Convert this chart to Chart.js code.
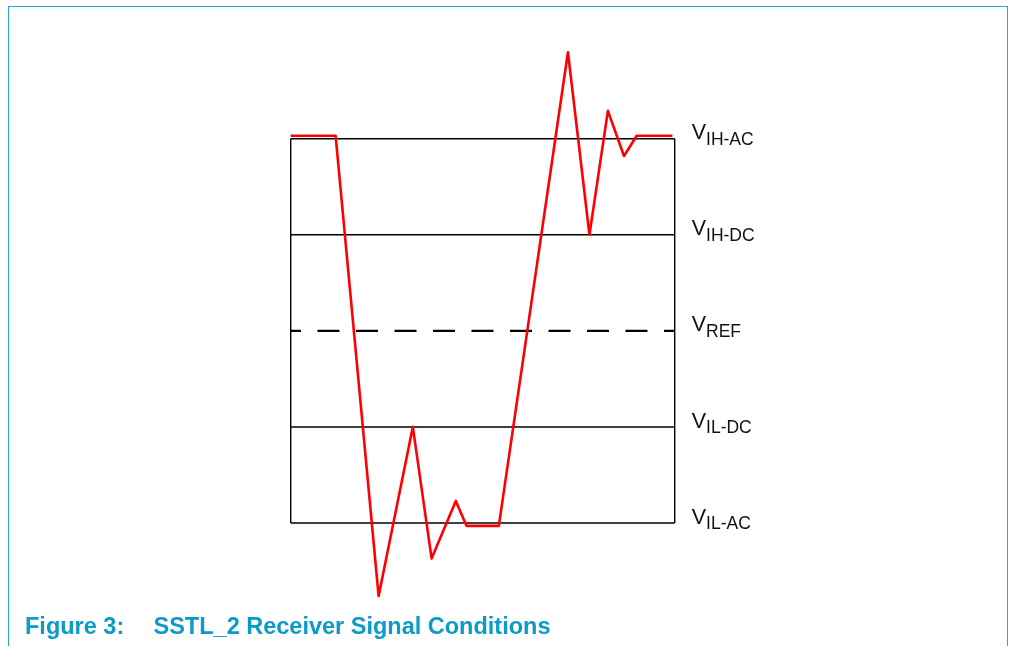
<!DOCTYPE html>
<html>
<head>
<meta charset="utf-8">
<script src="https://cdn.jsdelivr.net/npm/chart.js@4.4.1/dist/chart.umd.min.js"></script>
<style>
  body { margin: 0; background: #fff; }
  #frame { position: absolute; left: 8px; top: 6px; width: 998px; height: 700px;
           border: 1px solid #22a6d6; border-bottom: none; }
  #chart { position: absolute; left: 0; top: 0; }
  .cap { position: absolute; top: 614.5px; font: bold 23.5px "Liberation Sans", Arial, sans-serif;
         line-height: 1; color: #0a9bc8; white-space: nowrap; }
</style>
</head>
<body>
<div id="frame"></div>
<canvas id="chart" width="1010" height="646"></canvas>
<div class="cap" style="left:25px">Figure 3:</div>
<div class="cap" style="left:153.5px">SSTL_2 Receiver Signal Conditions</div>
<script>
// signal trace (time in % of box width, level in threshold steps)
var sigX = [0, 11.7, 22.9, 31.8, 36.7, 43.0, 45.8, 54.2, 72.2, 77.8, 82.6, 86.8, 90.1, 99.4]
var sigY = [4.03, 4.03, -0.76, 1.0, -0.37, 0.23, -0.03, -0.03, 4.90, 3.0, 4.29, 3.82, 4.03, 4.03]

// threshold levels, bottom to top
var levels = [0, 1, 2, 3, 4]
var levelNames = ['IL-AC', 'IL-DC', 'REF', 'IH-DC', 'IH-AC']

var boxX = [0, 100]

var datasets = []
datasets.push({
    label: 'signal',
    data: sigX.map(function (x, i) { return { x: x, y: sigY[i] } }),
    borderColor: '#ff0000',
    borderWidth: 2.6,
    borderJoinStyle: 'round',
    pointRadius: 0,
    tension: 0
})
levels.forEach(function (lv, i) {
    var ds = {
        label: levelNames[i],
        data: boxX.map(function (x) { return { x: x, y: lv } }),
        borderColor: '#000000',
        borderWidth: 1.4,
        pointRadius: 0
    }
    if (levelNames[i] == 'REF') {
        ds.borderWidth = 2.2
        ds.borderDash = [22, 16.5]
        ds.borderDashOffset = 11.7
    }
    datasets.push(ds)
})
boxX.forEach(function (x) {
    datasets.push({
        label: 'edge',
        data: [{ x: x, y: levels[0] }, { x: x, y: levels[levels.length - 1] }],
        borderColor: '#000000',
        borderWidth: 1.4,
        pointRadius: 0
    })
})

var levelLabels = {
    id: 'levelLabels',
    afterDraw: function (chart) {
        var ctx = chart.ctx
        var xs = chart.scales.x, ys = chart.scales.y
        var x0 = xs.getPixelForValue(boxX[1]) + 17
        ctx.save()
        ctx.fillStyle = '#111'
        ctx.textBaseline = 'alphabetic'
        levels.forEach(function (lv, i) {
            var y = ys.getPixelForValue(lv)
            ctx.font = '21.5px "Liberation Sans", Arial, sans-serif'
            ctx.fillText('V', x0, y + 0.6)
            var w = ctx.measureText('V').width
            ctx.font = '17.5px "Liberation Sans", Arial, sans-serif'
            ctx.fillText(levelNames[i], x0 + w, y + 6.4)
        })
        ctx.restore()
    }
}

new Chart(document.getElementById('chart'), {
    type: 'line',
    data: { datasets: datasets },
    options: {
        responsive: false,
        animation: false,
        devicePixelRatio: 1,
        clip: false,
        layout: { padding: { left: 290.7, right: 335.3, top: 23.4, bottom: 26.9 } },
        scales: {
            x: { type: 'linear', min: 0, max: 100, display: false },
            y: { type: 'linear', min: -1, max: 5.2, display: false }
        },
        plugins: {
            legend: { display: false },
            tooltip: { enabled: false }
        }
    },
    plugins: [levelLabels]
})
</script>
</body>
</html>
